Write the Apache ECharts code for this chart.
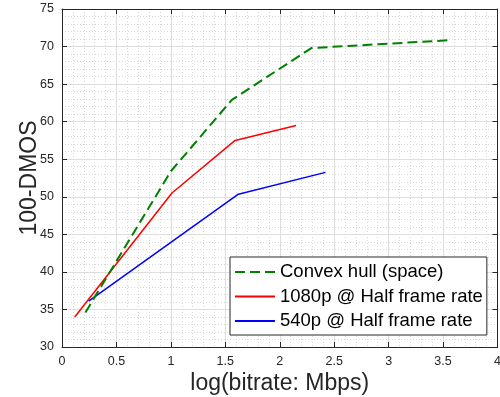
<!DOCTYPE html>
<html>
<head>
<meta charset="utf-8">
<script src="https://cdn.jsdelivr.net/npm/echarts@6/dist/echarts.min.js"></script>
<style>
html,body{margin:0;padding:0;background:#fff;}
#main{width:500px;height:397px;}
</style>
</head>
<body>
<div id="main"></div>
<script>
// values
var seriesNames = ['Convex hull (space)', '1080p @ Half frame rate', '540p @ Half frame rate'];
var hullX = [0.215, 1.0, 1.56, 2.29, 3.57];
var hullY = [34.6, 53.4, 62.9, 69.8, 70.85];
var hdX = [0.117, 1.01, 1.59, 2.15];
var hdY = [34.0, 50.5, 57.5, 59.5];
var sdX = [0.245, 1.62, 2.42];
var sdY = [36.1, 50.35, 53.25];

var pairs = function (xs, ys) {
    var res = [];
    for (var i = 0; i < xs.length; i++) {
        res.push([xs[i], ys[i]]);
    }
    return res;
};

var font = 'Liberation Sans, Arial, sans-serif';
var axisCol = '#262626';

var myChart = echarts.init(document.getElementById('main'));

var baseX = {
    type: 'value', min: 0, max: 4, interval: 0.5,
    axisLine: {show: true, onZero: false, lineStyle: {color: axisCol, width: 1}},
    axisTick: {show: true, inside: true, length: 5, lineStyle: {color: axisCol}}
};
var baseY = {
    type: 'value', min: 30, max: 75, interval: 5,
    axisLine: {show: true, onZero: false, lineStyle: {color: axisCol, width: 1}},
    axisTick: {show: true, inside: true, length: 5, lineStyle: {color: axisCol}}
};

var option = {
    backgroundColor: '#fff',
    animation: false,
    grid: {left: 62, right: 2.5, top: 9, bottom: 50, containLabel: false, outerBoundsMode: 'none'},
    legend: {
        orient: 'vertical',
        left: 230, top: 257,
        padding: [5, 4, 4, 4],
        itemGap: 4.5,
        itemWidth: 40,
        itemHeight: 14,
        backgroundColor: '#fff',
        borderColor: axisCol,
        borderWidth: 1,
        borderRadius: 0,
        itemStyle: {color: 'transparent', borderWidth: 0, opacity: 0},
        textStyle: {fontFamily: font, fontSize: 18.5, color: '#000', lineHeight: 20},
        data: seriesNames
    },
    xAxis: [
        Object.assign({}, baseX, {
            position: 'bottom',
            name: 'log(bitrate: Mbps)',
            nameLocation: 'middle',
            nameGap: 25,
            nameMoveOverlap: false,
            nameTextStyle: {fontFamily: font, fontSize: 23, color: axisCol},
            axisLabel: {fontFamily: font, fontSize: 12.5, color: axisCol, margin: 8},
            splitLine: {show: true, lineStyle: {color: '#dedede', width: 1}},
            minorTick: {show: false, splitNumber: 5},
            minorSplitLine: {show: true, lineStyle: {color: '#d8d8d8', width: 1, type: [1, 2]}}
        }),
        Object.assign({}, baseX, {
            position: 'top',
            axisLabel: {show: false},
            splitLine: {show: false}
        })
    ],
    yAxis: [
        Object.assign({}, baseY, {
            position: 'left',
            name: '100-DMOS',
            nameLocation: 'middle',
            nameGap: 21,
            nameMoveOverlap: false,
            nameTextStyle: {fontFamily: font, fontSize: 23, color: axisCol},
            axisLabel: {fontFamily: font, fontSize: 12.5, color: axisCol, margin: 8},
            splitLine: {show: true, lineStyle: {color: '#dedede', width: 1}},
            minorTick: {show: false, splitNumber: 5},
            minorSplitLine: {show: true, lineStyle: {color: '#d8d8d8', width: 1, type: [1, 2]}}
        }),
        Object.assign({}, baseY, {
            position: 'right',
            axisLabel: {show: false},
            splitLine: {show: false}
        })
    ],
    series: [
        {
            name: seriesNames[0], type: 'line',
            data: pairs(hullX, hullY),
            symbol: 'none',
            lineStyle: {color: '#008000', width: 2, type: [10, 5]},
            itemStyle: {color: '#008000'},
            z: 3
        },
        {
            name: seriesNames[1], type: 'line',
            data: pairs(hdX, hdY),
            symbol: 'none',
            lineStyle: {color: '#ff0000', width: 1.5},
            itemStyle: {color: '#ff0000'},
            z: 2
        },
        {
            name: seriesNames[2], type: 'line',
            data: pairs(sdX, sdY),
            symbol: 'none',
            lineStyle: {color: '#0000ff', width: 1.5},
            itemStyle: {color: '#0000ff'},
            z: 2
        }
    ]
};
myChart.setOption(option);
</script>
</body>
</html>
